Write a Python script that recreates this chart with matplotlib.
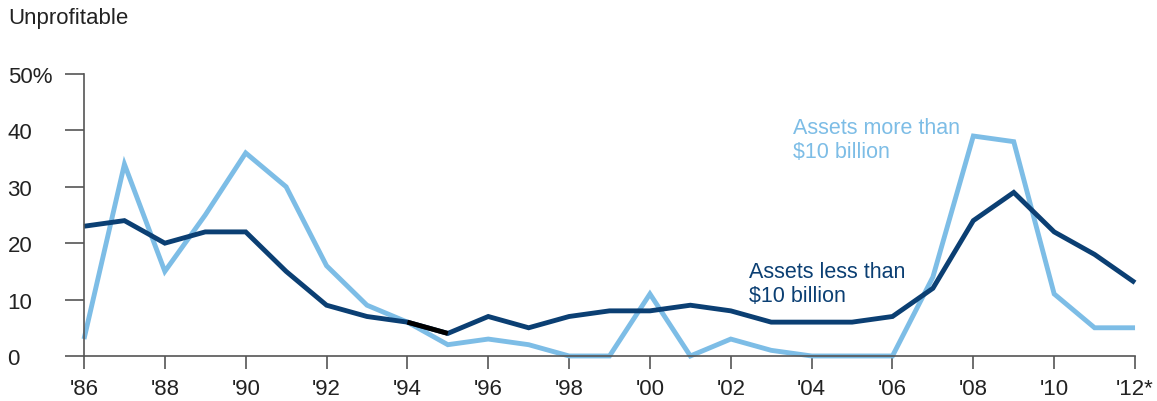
import matplotlib.pyplot as plt
import numpy as np

plt.rcParams['font.family'] = ['Liberation Sans', 'DejaVu Sans']

# share of unprofitable banks, %
years = list(range(1986, 2013))
less_than_10b = [23, 24, 20, 22, 22, 15, 9, 7, 6, 4, 7, 5, 7, 8, 8, 9, 8,
                 6, 6, 6, 7, 12, 24, 29, 22, 18, 13]
more_than_10b = [3, 34, 15, 25, 36, 30, 16, 9, 6, 2, 3, 2, 0, 0, 11, 0, 3,
                 1, 0, 0, 0, 14, 39, 38, 11, 5, 5]
xtick_labels = ["'86", "'88", "'90", "'92", "'94", "'96", "'98", "'00",
                "'02", "'04", "'06", "'08", "'10", "'12*"]
ytick_labels = ['0', '10', '20', '30', '40', '50%']

light = '#7dbde6'
dark = '#0b3f73'
fs = 16

fig = plt.figure(figsize=(11.57, 4.02), dpi=100)
ax = fig.add_axes([0.0726, 0.112, 0.9084, 0.7015])

ax.plot(years, more_than_10b, color=light, lw=3.5, solid_joinstyle='miter',
        solid_capstyle='butt')
ax.plot(years, less_than_10b, color=dark, lw=3.5, solid_joinstyle='miter',
        solid_capstyle='butt')
# the short black piece between '94 and '95
ax.plot(years[8:10], less_than_10b[8:10], color='black', lw=3.5,
        solid_capstyle='butt')

ax.set_xlim(1986, 2012)
ax.set_ylim(0, 50)
ax.set_xticks(years[::2])
ax.set_xticklabels(xtick_labels)
ax.set_yticks(np.arange(0, 51, 10))
ax.set_yticklabels(ytick_labels)

for s in ['top', 'right']:
    ax.spines[s].set_visible(False)
for s in ['left', 'bottom']:
    ax.spines[s].set_color('#555555')
    ax.spines[s].set_linewidth(1.2)
ax.spines['bottom'].set_bounds(1986, 2012)
ax.tick_params(axis='y', length=14, width=1.2, color='#555555',
               labelsize=fs, pad=41, labelcolor='#222222')
ax.tick_params(axis='x', length=9, width=1.2, color='#555555',
               labelsize=fs, pad=7, labelcolor='#222222')
for lbl in ax.get_yticklabels():
    lbl.set_horizontalalignment('left')
for ln in ax.lines:
    ln.set_clip_on(False)

ax.text(2003.55, 42.4, 'Assets more than\n$10 billion', color=light,
        fontsize=15.5, va='top', ha='left', linespacing=1.2)
ax.text(2002.45, 16.9, 'Assets less than\n$10 billion', color=dark,
        fontsize=15.5, va='top', ha='left', linespacing=1.2)

fig.text(0.007, 0.953, 'Unprofitable', fontsize=fs, color='#222222',
         va='center', ha='left')

fig.savefig('out.png', dpi=100)
